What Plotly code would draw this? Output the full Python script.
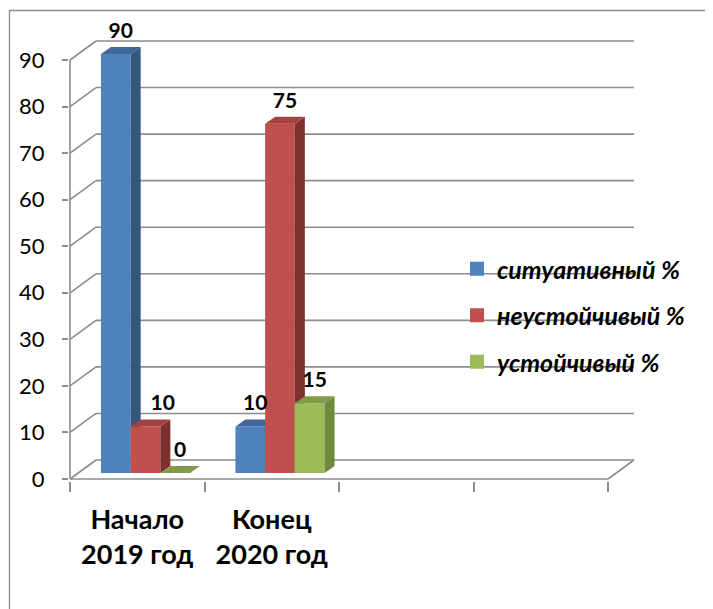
import plotly.graph_objects as go

# ---- data ----
categories = ["Начало<br>2019 год", "Конец<br>2020 год"]
series_names = ["ситуативный %", "неустойчивый %", "устойчивый %"]
situative = [90, 10]
unstable = [10, 75]
stable = [0, 15]
y_ticks = [0, 10, 20, 30, 40, 50, 60, 70, 80, 90]
n_slots = 4  # category slots on the x axis (two empty)

series_values = [situative, unstable, stable]
front_colors = ["#4F81BD", "#C0504D", "#9BBB59"]
side_colors = ["#34577F", "#7E302E", "#6E8A3C"]
top_colors = ["#3F6899", "#A3423F", "#819B4A"]

# ---- geometry (page pixels -> data units) ----
OFF = 8                            # page body margin
W_FIG, H_FIG = 713 - OFF, 609 - OFF
X0_PX, Y0_PX = 70 - OFF, 479 - OFF # figure pixel of data (0, 0)
SX = 134.5                         # px per category slot
SY = (479 - 60) / 90               # px per value unit
PL, PR, PT, PB = 69 - OFF, 645 - OFF, 20 - OFF, 481 - OFF

xr = [(PL - X0_PX) / SX, (PR - X0_PX) / SX]
yr = [(Y0_PX - PB) / SY, (Y0_PX - PT) / SY]

BDX, BDY = 26 / SX, 19 / SY        # back wall offset
BAR_W = 29.7 / SX
BAR_DX, BAR_DY = 10 / SX, 7 / SY   # bar depth
BASE = 6 / SY                      # bar base (mid depth)
GROUP_SHIFT = 8.25 / SX

GRID = "#8C8C8C"
FONT = "Lato, Open Sans, sans-serif"

fig = go.Figure()

def line(xs, ys, color=GRID, width=1.6):
    fig.add_trace(go.Scatter(x=xs, y=ys, mode="lines", line=dict(color=color, width=width),
                             hoverinfo="skip", showlegend=False))

# back wall gridlines + left wall diagonals
for v in y_ticks:
    line([BDX, n_slots + BDX], [v + BDY, v + BDY])
    line([0, BDX], [v, v + BDY])
# floor edges and front y axis
line([0, n_slots], [0, 0])
line([n_slots, n_slots + BDX], [0, BDY])
line([0, 0], [0, y_ticks[-1]])

# ---- 3D-looking bars ----
for s, vals in enumerate(series_values):
    fx, fy, sx_, sy_, tx, ty = [], [], [], [], [], []
    for c, v in enumerate(vals):
        x0 = c + 0.5 + GROUP_SHIFT - 1.5 * BAR_W + s * BAR_W
        x1 = x0 + BAR_W
        b, t = BASE, BASE + v
        fx += [x0, x1, x1, x0, x0, None]
        fy += [b, b, t, t, b, None]
        sx_ += [x1, x1 + BAR_DX, x1 + BAR_DX, x1, x1, None]
        sy_ += [b, b + BAR_DY, t + BAR_DY, t, b, None]
        tx += [x0, x1, x1 + BAR_DX, x0 + BAR_DX, x0, None]
        ty += [t, t, t + BAR_DY, t + BAR_DY, t, None]
    for xs, ys, col in [(fx, fy, front_colors[s]), (sx_, sy_, side_colors[s]), (tx, ty, top_colors[s])]:
        fig.add_trace(go.Scatter(x=xs, y=ys, mode="lines", fill="toself", fillcolor=col,
                                 line=dict(width=0, color=col), hoverinfo="skip", showlegend=False))

# ---- data labels ----
label_pos = [["top center", "top center"], ["top right", "top center"], ["top center", "top center"]]
for s, vals in enumerate(series_values):
    xs, ys = [], []
    for c, v in enumerate(vals):
        x0 = c + 0.5 + GROUP_SHIFT - 1.5 * BAR_W + s * BAR_W
        xs.append(x0 + BAR_W / 2 + BAR_DX / 2)
        ys.append(BASE + v + BAR_DY + 4 / SY)
    fig.add_trace(go.Scatter(x=xs, y=ys, mode="text", text=[str(v) for v in vals],
                             textposition=label_pos[s], cliponaxis=False,
                             textfont=dict(family=FONT, size=21, color="black", weight="bold"),
                             hoverinfo="skip", showlegend=False))

# ---- legend entries ----
for s, name in enumerate(series_names):
    fig.add_trace(go.Scatter(x=[None], y=[None], mode="markers", name=name,
                             marker=dict(symbol="square", size=14, color=front_colors[s]),
                             legendgroup=name))

# outer frame
def px_to_paper_x(px):
    return (px - OFF - PL) / (PR - PL)

def px_to_paper_y(py):
    return (PB - (py - OFF)) / (PB - PT)

fig.add_shape(type="line", xref="paper", yref="paper",
              x0=px_to_paper_x(9.5), x1=px_to_paper_x(9.5), y0=px_to_paper_y(10), y1=px_to_paper_y(615),
              line=dict(color="#8A8A8A", width=1.3))
fig.add_shape(type="line", xref="paper", yref="paper",
              x0=px_to_paper_x(9), x1=px_to_paper_x(720), y0=px_to_paper_y(10.5), y1=px_to_paper_y(10.5),
              line=dict(color="#8A8A8A", width=1.3))

fig.update_layout(
    width=W_FIG, height=H_FIG,
    margin=dict(l=PL, r=W_FIG - PR, t=PT, b=H_FIG - PB, pad=0),
    paper_bgcolor="white", plot_bgcolor="white",
    font=dict(family=FONT, color="black"),
    showlegend=True,
    legend=dict(x=px_to_paper_x(457), y=px_to_paper_y(246), xanchor="left", yanchor="top",
                font=dict(family=FONT, size=25, color="black", weight="bold", style="italic"),
                tracegroupgap=11, bgcolor="rgba(0,0,0,0)"),
    xaxis=dict(range=xr, showgrid=False, zeroline=False, showline=False,
               tickmode="array", tickvals=[0.5, 1.5], ticktext=categories, ticks="",
               tickfont=dict(family=FONT, size=27, color="black", weight="bold"),
               ticklabelstandoff=20,
               minor=dict(tickmode="array", tickvals=list(range(n_slots + 1)), ticks="outside",
                          ticklen=10, tickcolor=GRID, tickwidth=1.6, showgrid=False)),
    yaxis=dict(range=yr, showgrid=False, zeroline=False, showline=False,
               tickmode="array", tickvals=y_ticks, ticks="outside", ticklen=6,
               tickcolor=GRID, tickwidth=1.6, ticklabelstandoff=13,
               tickfont=dict(family=FONT, size=22, color="black")),
)

fig.write_html("out.html")
